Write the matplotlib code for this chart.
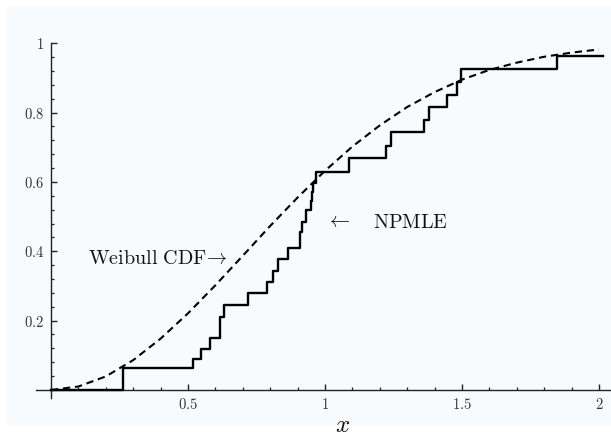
import matplotlib
matplotlib.use("Agg")
import matplotlib.pyplot as plt
from matplotlib.patches import Rectangle
from matplotlib.ticker import FixedLocator, MultipleLocator

plt.rcParams['mathtext.fontset'] = 'cm'

# NPMLE step function: jump locations and levels after each jump
npmle_x = [0.0, 0.264, 0.517, 0.546, 0.581, 0.617, 0.630, 0.718, 0.789, 0.809, 0.827,
           0.866, 0.909, 0.918, 0.931, 0.948, 0.952, 0.956, 0.966,
           1.089, 1.223, 1.241, 1.361, 1.380, 1.446, 1.481, 1.496, 1.848, 2.016]
npmle_y = [0.0, 0.062, 0.089, 0.118, 0.150, 0.211, 0.245, 0.280, 0.312, 0.344, 0.377,
           0.409, 0.456, 0.485, 0.519, 0.545, 0.570, 0.596, 0.630,
           0.668, 0.703, 0.744, 0.778, 0.816, 0.850, 0.889, 0.927, 0.963, 0.963]

# Weibull CDF curve
weibull_x = [0.0, 0.1, 0.2, 0.3, 0.4, 0.5, 0.6, 0.7, 0.8, 0.9, 1.0,
             1.1, 1.2, 1.3, 1.4, 1.5, 1.6, 1.7, 1.8, 1.9, 2.0]
weibull_y = [0.0, 0.010, 0.039, 0.086, 0.148, 0.221, 0.302, 0.387, 0.473, 0.555, 0.632,
             0.702, 0.763, 0.816, 0.859, 0.895, 0.923, 0.944, 0.961, 0.973, 0.982]

x_ticks = [0.5, 1.0, 1.5, 2.0]
x_ticklabels = ['0.5', '1', '1.5', '2']
y_ticks = [0.2, 0.4, 0.6, 0.8, 1.0]
y_ticklabels = ['0.2', '0.4', '0.6', '0.8', '1']

W, H = 611, 438
fig = plt.figure(figsize=(W / 100, H / 100), dpi=100, facecolor='white')
fig.patches.append(Rectangle((7 / W, (H - 425) / H), 604 / W, 418 / H,
                             transform=fig.transFigure, facecolor='#f7fbfe',
                             edgecolor='none', zorder=-10))

ax = fig.add_axes([36 / W, (H - 398.3) / H, 575 / W, (398.3 - 41.5) / H])
ax.set_facecolor('none')
ax.set_xlim(-0.0547, 2.044)
ax.set_ylim(-0.024, 1.005)

ax.step(npmle_x, npmle_y, where='post', color='black', lw=1.7, zorder=3)
ax.plot(weibull_x, weibull_y, color='black', lw=1.5, dashes=(3.5, 2.3), zorder=3)

for s in ['top', 'right']:
    ax.spines[s].set_visible(False)
ax.spines['left'].set_position(('data', 0))
ax.spines['bottom'].set_position(('data', 0))
for s in ['left', 'bottom']:
    ax.spines[s].set_color('#222222')
    ax.spines[s].set_linewidth(1.0)
ax.spines['left'].set_bounds(-0.024, 1.0)

ax.xaxis.set_major_locator(FixedLocator(x_ticks))
ax.set_xticklabels(['$' + t + '$' for t in x_ticklabels])
ax.xaxis.set_minor_locator(MultipleLocator(0.1))
ax.yaxis.set_major_locator(FixedLocator(y_ticks))
ax.set_yticklabels(['$' + t + '$' for t in y_ticklabels])
ax.yaxis.set_minor_locator(MultipleLocator(0.04))

ax.tick_params(which='major', direction='in', length=4, width=1.0, color='#222222',
               labelsize=10.5, labelcolor='#333333', pad=5)
ax.tick_params(which='minor', direction='in', length=2.2, width=0.9, color='#222222')

fig.text(157.5 / W, 1 - 259 / H, r'$\mathrm{Weibull\ CDF}\!\rightarrow$',
         fontsize=14.5, ha='center', va='center', color='#111111')
fig.text(338.5 / W, 1 - 221 / H, r'$\leftarrow$', fontsize=14.5,
         ha='center', va='center', color='#111111')
fig.text(410.5 / W, 1 - 222 / H, r'$\mathrm{NPMLE}$', fontsize=14.5,
         ha='center', va='center', color='#111111')
fig.text(343 / W, 1 - 425 / H, r'$x$', fontsize=18, ha='center', va='center',
         color='#111111')

fig.savefig('out.png', dpi=100, facecolor='white')
